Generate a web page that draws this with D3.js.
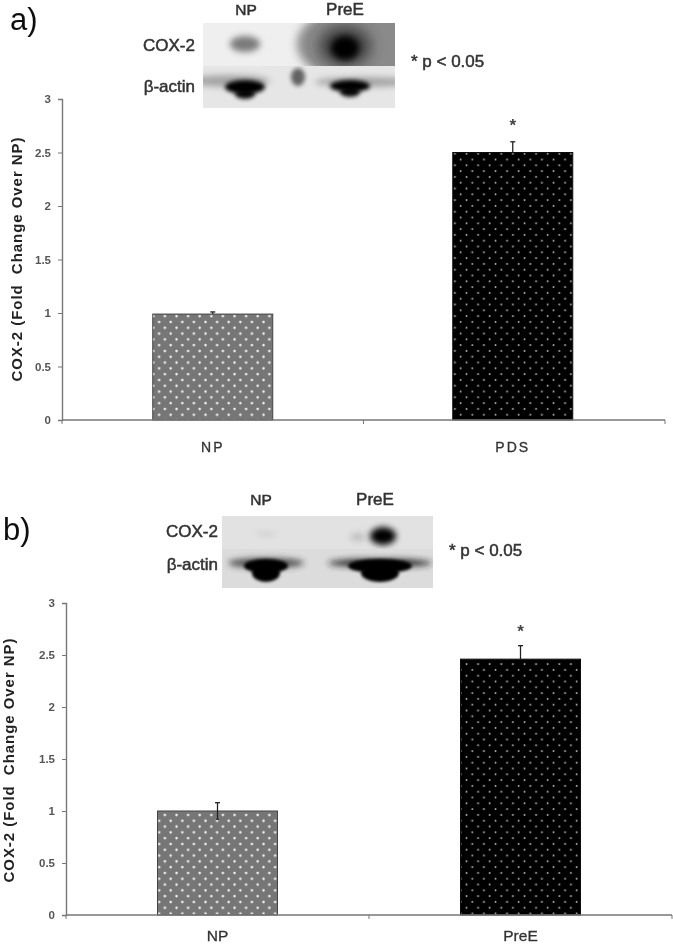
<!DOCTYPE html>
<html><head><meta charset="utf-8">
<script src="https://cdn.jsdelivr.net/npm/d3@7/dist/d3.min.js"></script>
<style>html,body{margin:0;padding:0;background:#fff}svg{display:block}text{font-family:"Liberation Sans",Arial,sans-serif}</style>
</head><body><svg id="c" width="673" height="944"></svg>
<script>
// ---- data ----
const yTicks = [0, 0.5, 1, 1.5, 2, 2.5, 3];
const categoriesA = ["NP", "PDS"];
const valuesA = [0.99, 2.5];
const errorsUpA = [0.02, 0.1];
const errorsDownA = [0, 0];
const categoriesB = ["NP", "PreE"];
const valuesB = [1.0, 2.46];
const errorsUpB = [0.08, 0.13];
const errorsDownB = [0.08, 0];
const blotLanes = ["NP", "PreE"];
const blotRows = ["COX-2", "β-actin"];
const yTitle = "COX-2 (Fold  Change Over NP)";
const pNote = "* p < 0.05";

const svg = d3.select("#c");
const defs = svg.append("defs");
[1.5, 2, 3, 5, 7, 10].forEach(s => defs.append("filter").attr("id", "b" + s)
  .attr("x", "-80%").attr("y", "-80%").attr("width", "260%").attr("height", "260%")
  .append("feGaussianBlur").attr("stdDeviation", s));
defs.append("filter").attr("id", "soft").append("feGaussianBlur").attr("stdDeviation", 0.35);

function dots(id, bg, dot, r) {
  const p = defs.append("pattern").attr("id", id).attr("patternUnits", "userSpaceOnUse")
    .attr("width", 11.6).attr("height", 11.6);
  p.append("rect").attr("width", 11.6).attr("height", 11.6).attr("fill", bg);
  [[2.5, 3], [8.3, 8.8]].forEach(d => p.append("circle").attr("cx", d[0]).attr("cy", d[1]).attr("r", r).attr("fill", dot));
}
dots("gray", "#767676", "#f4f4f4", 1.25);
dots("black", "#020202", "#b5b5b5", 0.95);

function chart(o) {
  const g = svg.append("g").attr("filter", "url(#soft)");
  const y = d3.scaleLinear().domain([0, 3]).range([o.y0, o.y3]);
  const x = d3.scaleBand().domain(o.cats).range([o.xL, o.xR]).paddingInner(0).paddingOuter(0);
  const barW = 120;
  const cx = (c, i) => x(c) + x.bandwidth() / 2 + o.dx[i];

  o.vals.forEach((v, i) => {
    const c = o.cats[i], px = cx(c, i);
    g.append("rect").attr("x", px - barW / 2).attr("y", y(v)).attr("width", barW).attr("height", y(0) - y(v))
      .attr("fill", i ? "url(#black)" : "url(#gray)").attr("stroke", i ? "#111" : "#444").attr("stroke-width", 1);
    const hi = y(v + o.up[i]), lo = y(v - o.down[i]);
    g.append("line").attr("x1", px).attr("x2", px).attr("y1", hi).attr("y2", lo).attr("stroke", "#222").attr("stroke-width", 1.3);
    g.append("line").attr("x1", px - 2.5).attr("x2", px + 2.5).attr("y1", hi).attr("y2", hi).attr("stroke", "#222").attr("stroke-width", 1.3);
    if (o.down[i]) g.append("line").attr("x1", px - 1.5).attr("x2", px + 1.5).attr("y1", lo).attr("y2", lo).attr("stroke", "#222");
    g.append("text").attr("x", px + o.lblDx[i]).attr("y", o.y0 + o.lblY).attr("text-anchor", "middle")
      .attr("font-size", o.lblSize).attr("fill", "#333").attr("stroke", "#333").attr("stroke-width", 0.3)
      .attr("letter-spacing", o.ls).text(c);
  });
  const sigC = o.cats[1];
  g.append("text").attr("x", cx(sigC, 1) + o.starDx).attr("y", y(o.vals[1] + o.up[1]) + o.starDy).attr("text-anchor", "middle")
    .attr("font-size", 17).attr("font-weight", "bold").attr("fill", "#444").text("*");

  const ya = g.append("g").attr("transform", `translate(${o.xL},0)`)
    .call(d3.axisLeft(y).tickValues(yTicks).tickFormat(d3.format("~g")).tickSize(4).tickPadding(7));
  ya.select(".domain").attr("stroke", "#777").attr("stroke-width", 1.4);
  ya.selectAll(".tick line").attr("stroke", "#777");
  ya.selectAll("text").attr("font-size", 11.5).attr("font-weight", "bold").attr("fill", "#555").style("font-family", '"Liberation Sans",Arial,sans-serif');

  const xa = g.append("g").attr("transform", `translate(0,${o.y0})`);
  xa.append("line").attr("x1", o.xL).attr("x2", o.xR).attr("stroke", "#777").attr("stroke-width", 1.4);
  [o.xL, x(o.cats[1]), o.xR].forEach(t =>
    xa.append("line").attr("x1", t).attr("x2", t).attr("y1", 0).attr("y2", 4).attr("stroke", "#777"));

  g.append("text").attr("transform", `translate(${o.titleX},${o.titleY}) rotate(-90)`).attr("text-anchor", "middle")
    .attr("font-size", 15).attr("font-weight", "bold").attr("letter-spacing", 0.95).attr("fill", "#222")
    .style("white-space", "pre").text(yTitle);
  g.append("text").attr("x", o.tagX).attr("y", o.tagY).attr("font-size", 31).attr("fill", "#111").text(o.tag);
}

function blot(o) {
  const g = svg.append("g");
  const clip = (id, y, h) => defs.append("clipPath").attr("id", id).append("rect")
    .attr("x", o.x).attr("y", y).attr("width", o.w).attr("height", h);
  clip(o.id + "0", o.y, o.split - o.y);
  clip(o.id + "1", o.split, o.y + o.h - o.split);
  const lane = d3.scalePoint().domain(blotLanes).range(o.laneX);
  const row = d3.scalePoint().domain(blotRows).range(o.rowY);
  const layers = blotRows.map((r, i) => g.append("g").attr("clip-path", `url(#${o.id}${i})`));
  layers[0].append("rect").attr("x", o.x).attr("y", o.y).attr("width", o.w).attr("height", o.split - o.y).attr("fill", o.bgTop);
  layers[1].append("rect").attr("x", o.x).attr("y", o.split).attr("width", o.w).attr("height", o.y + o.h - o.split).attr("fill", o.bgBot);
  o.blobs.forEach(d => {
    layers[blotRows.indexOf(d.row)].append("ellipse").attr("cx", d.ox + lane(d.lane)).attr("cy", row(d.row) + d.oy).attr("rx", d.rx).attr("ry", d.ry)
      .attr("fill", d.c).attr("opacity", d.a).attr("filter", `url(#b${d.blur})`);
  });
  const t = svg.append("g").attr("filter", "url(#soft)").attr("fill", "#333").attr("stroke", "#333").attr("stroke-width", 0.5);
  blotLanes.forEach((l, i) => t.append("text").attr("x", lane(l) + o.headDx[i]).attr("y", o.headY).attr("text-anchor", "middle").attr("font-size", i ? 17 : 15.5).text(l));
  blotRows.forEach((r, i) => t.append("text").attr("x", o.labelX).attr("y", row(r) + o.rowTextDy[i]).attr("text-anchor", "end").attr("font-size", 17).text(r));
  t.append("text").attr("x", o.noteX).attr("y", o.noteY).attr("font-size", 17).text(pNote);
}

blot({ id: "clipA", x: 203, y: 23, w: 192, h: 85, split: 66, bgTop: "#efefef", bgBot: "#e6e6e6", labelX: 195,
  laneX: [245, 345], rowY: [46, 88], headDx: [1, 0], headY: 15, rowTextDy: [5, 4], noteX: 411, noteY: 67,
  blobs: [
    { lane: "PreE", row: "COX-2", ox: 22, oy: -2, rx: 70, ry: 40, c: "#8a8a8a", a: 1, blur: 5 },
    { lane: "PreE", row: "COX-2", ox: 0, oy: 0, rx: 26, ry: 20, c: "#333", a: .85, blur: 7 },
    { lane: "PreE", row: "COX-2", ox: 0, oy: 2, rx: 14, ry: 12, c: "#000", a: 1, blur: 3 },
    { lane: "NP", row: "COX-2", ox: 0, oy: -2, rx: 15, ry: 8, c: "#666", a: .85, blur: 3 },
    { lane: "NP", row: "β-actin", ox: -15, oy: -7, rx: 40, ry: 6, c: "#888", a: .7, blur: 3 },
    { lane: "PreE", row: "β-actin", ox: 20, oy: -6, rx: 50, ry: 5, c: "#888", a: .7, blur: 3 },
    { lane: "NP", row: "β-actin", ox: 0, oy: -1, rx: 20, ry: 7, c: "#000", a: 1, blur: 2 },
    { lane: "NP", row: "β-actin", ox: 0, oy: 6, rx: 10, ry: 5, c: "#000", a: .95, blur: 2 },
    { lane: "PreE", row: "β-actin", ox: 5, oy: -2, rx: 20, ry: 6, c: "#000", a: 1, blur: 2 },
    { lane: "PreE", row: "β-actin", ox: 5, oy: 4, rx: 10, ry: 5, c: "#000", a: .95, blur: 2 },
    { lane: "NP", row: "β-actin", ox: 53, oy: -11, rx: 7, ry: 9, c: "#555", a: .9, blur: 2 }
  ] });
blot({ id: "clipB", x: 222, y: 516, w: 211, h: 72, split: 549, bgTop: "#e2e2e2", bgBot: "#dcdcdc", labelX: 218,
  laneX: [266, 380], rowY: [535, 565], headDx: [-5, -5], headY: 505, rowTextDy: [2, 5], noteX: 449, noteY: 556,
  blobs: [
    { lane: "PreE", row: "COX-2", ox: 3, oy: 1, rx: 13, ry: 9, c: "#000", a: 1, blur: 3 },
    { lane: "PreE", row: "COX-2", ox: -22, oy: 2, rx: 8, ry: 4, c: "#999", a: .5, blur: 3 },
    { lane: "NP", row: "COX-2", ox: 0, oy: -1, rx: 10, ry: 2, c: "#bbb", a: .6, blur: 3 },
    { lane: "NP", row: "β-actin", ox: 0, oy: -2, rx: 38, ry: 5, c: "#333", a: .85, blur: 3 },
    { lane: "NP", row: "β-actin", ox: 0, oy: 1, rx: 22, ry: 7, c: "#000", a: 1, blur: 1.5 },
    { lane: "NP", row: "β-actin", ox: 0, oy: 8, rx: 14, ry: 9, c: "#000", a: 1, blur: 1.5 },
    { lane: "PreE", row: "β-actin", ox: 0, oy: -2, rx: 52, ry: 4, c: "#222", a: 1, blur: 3 },
    { lane: "PreE", row: "β-actin", ox: 0, oy: 1, rx: 32, ry: 7, c: "#000", a: 1, blur: 1.5 },
    { lane: "PreE", row: "β-actin", ox: 0, oy: 8, rx: 19, ry: 9, c: "#000", a: 1, blur: 1.5 }
  ] });

chart({ cats: categoriesA, vals: valuesA, up: errorsUpA, down: errorsDownA, y0: 420, y3: 99, xL: 62, xR: 665, dx: [0, -1.5],
  lblDx: [0, 0], lblY: 32, lblSize: 14, ls: 2, starDx: 0, starDy: -11, titleX: 22, titleY: 259, tag: "a)", tagX: 10, tagY: 30 });
chart({ cats: categoriesB, vals: valuesB, up: errorsUpB, down: errorsDownB, y0: 915, y3: 603, xL: 66, xR: 672, dx: [0, 0],
  lblDx: [0, 0], lblY: 26, lblSize: 15.5, ls: 0, starDx: 0, starDy: -9, titleX: 14, titleY: 760, tag: "b)", tagX: 3, tagY: 540 });
</script></body></html>
